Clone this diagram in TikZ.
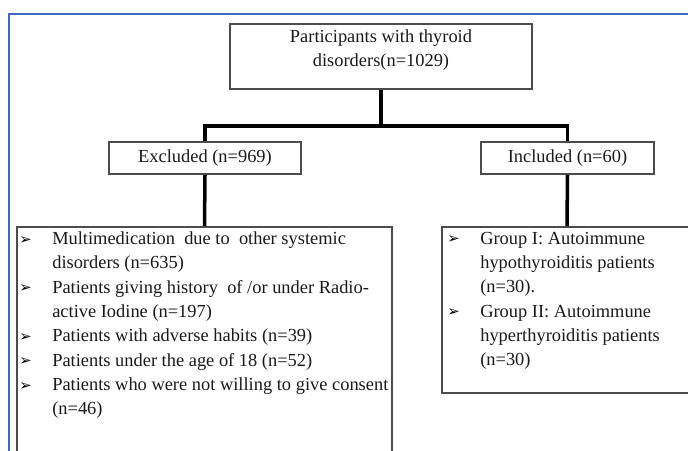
\documentclass[tikz,border=0pt]{standalone}
\usepackage{fontspec}
\setmainfont{Liberation Serif}
\newfontfamily\dejavu{DejaVu Sans}
\usepackage{tikz}
\usetikzlibrary{positioning}
\definecolor{framebl}{RGB}{63,106,190}
\tikzstyle{box}  = [rectangle, draw=black!70, line width=1.4pt, inner sep=0pt]
\tikzstyle{conn} = [line width=2.5pt, black]
\tikzstyle{txt}  = [inner sep=0pt, font=\fontsize{13.1}{17.3}\selectfont, text=black!90]
\newcommand{\bul}{\makebox[0.825cm][l]{\raisebox{0.3pt}{\dejavu\fontsize{10.5}{10.5}\selectfont\color{black}➢}}}
\newcommand{\nobul}{\hspace*{0.825cm}}
\begin{document}
\begin{tikzpicture}
		\clip (0,0) rectangle (17.2,11.25);
		\draw[framebl, line width=0.9pt] (0.225,-1) -- (0.225,10.9) -- (18,10.9);

		\node[box, minimum width=7.55cm, minimum height=1.625cm] (part) at (9.525,9.8375) {};
		\node[txt, align=center, anchor=north] (parttxt) at ([yshift=-0.15cm]part.north) {Participants with thyroid\\disorders(n=1029)};

		\node[box, txt, minimum width=4.8cm, minimum height=0.8cm] (excl) at (5.125,7.3) {Excluded (n=969)};
		\node[box, txt, minimum width=4.325cm, minimum height=0.8cm] (incl) at (14.1875,7.3) {Included (n=60)};

		\node[box, minimum width=9.375cm, minimum height=5.875cm] (exclbox) at (5.1125,2.6375) {};
		\node[txt, align=left, anchor=north west] (excltxt) at ([xshift=0.075cm,yshift=-0.14cm]exclbox.north west) {\bul Multimedication\ \ due to\ \ other systemic\\
			\nobul disorders (n=635)\\
			\bul Patients giving history\ \ of /or under Radio-\\
			\nobul active Iodine (n=197)\\
			\bul Patients with adverse habits (n=39)\\
			\bul Patients under the age of 18 (n=52)\\
			\bul Patients who were not willing to give consent\\
			\nobul (n=46)};

		\node[box, minimum width=6.25cm, minimum height=4.15cm] (inclbox) at (14.175,3.5) {};
		\node[txt, align=left, anchor=north west] (incltxt) at ([xshift=0.15cm,yshift=-0.14cm]inclbox.north west) {\bul Group I: Autoimmune\\
			\nobul hypothyroiditis patients\\
			\nobul (n=30).\\
			\bul Group II: Autoimmune\\
			\nobul hyperthyroiditis patients\\
			\nobul (n=30)};

		\coordinate (split) at (9.525,8.1);
		\draw[conn] (part.south) -- (split);
		\draw[conn] (excl.north) |- (split) -| (incl.north);
		\draw[conn] (excl.south) -- (exclbox.north);
		\draw[conn] (incl.south) -- (inclbox.north);
	\end{tikzpicture}
\end{document}
